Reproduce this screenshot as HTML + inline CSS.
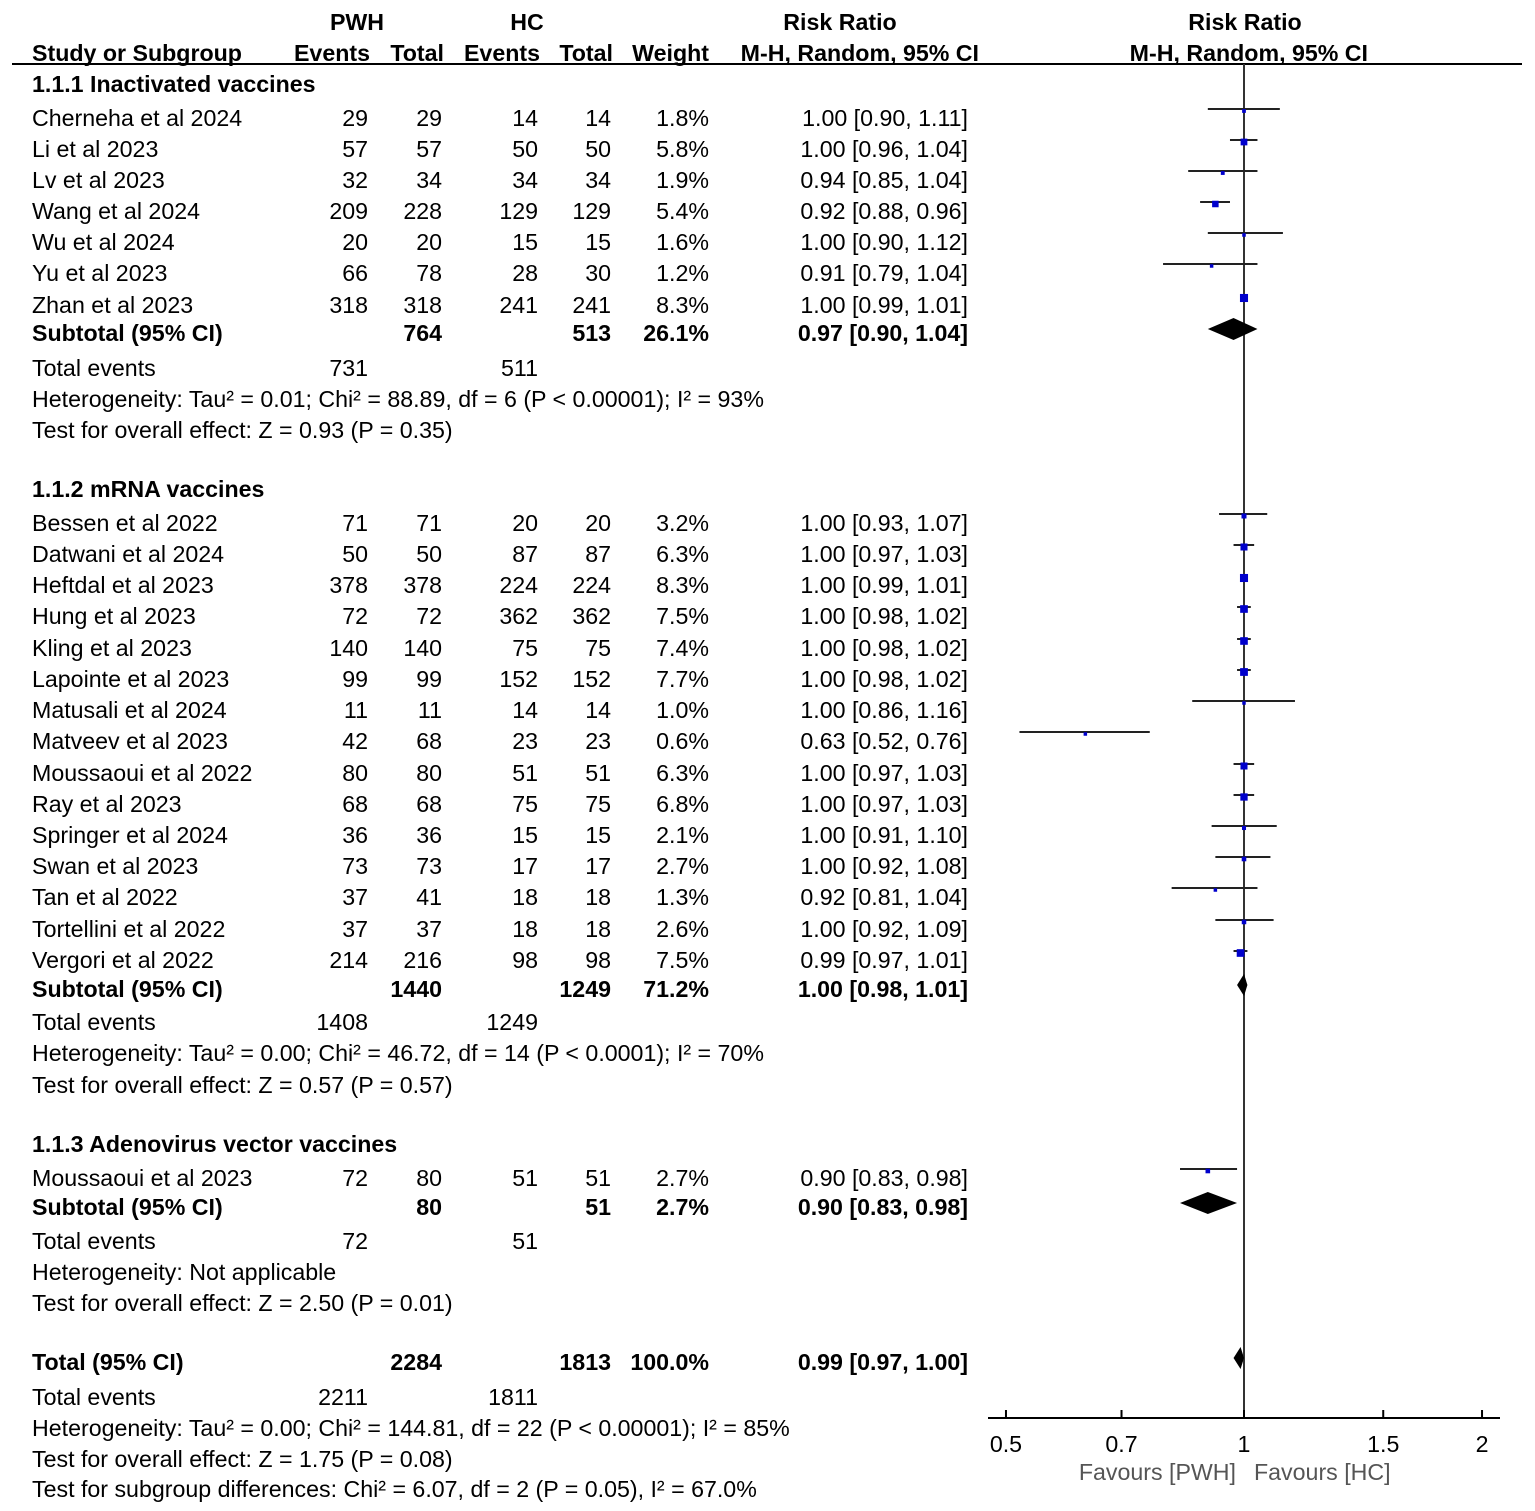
<!DOCTYPE html>
<html><head><meta charset="utf-8"><style>
body{margin:0;background:#fff}
svg{display:block;font-family:"Liberation Sans",Arial,sans-serif;font-size:23.2px}
.b{font-weight:bold}
</style></head><body>
<svg id="c" width="1535" height="1511" viewBox="0 0 1535 1511"></svg>
<script>
// Rows: type, label, pwhEv, pwhTot, hcEv, hcTot, weight, rr, lo, hi
const rowTypes=['h','s','s','s','s','s','s','s','t','e','x','x','h','s','s','s','s','s','s','s','s','s','s','s','s','s','s','s','t','e','x','x','h','s','t','e','x','x','T','e','x','x','x'];
const rowLabels=['1.1.1 Inactivated vaccines','Cherneha et al 2024','Li et al 2023','Lv et al 2023','Wang et al 2024','Wu et al 2024','Yu et al 2023','Zhan et al 2023','Subtotal (95% CI)','Total events','Heterogeneity: Tau² = 0.01; Chi² = 88.89, df = 6 (P < 0.00001); I² = 93%','Test for overall effect: Z = 0.93 (P = 0.35)',
'1.1.2 mRNA vaccines','Bessen et al 2022','Datwani et al 2024','Heftdal et al 2023','Hung et al 2023','Kling et al 2023','Lapointe et al 2023','Matusali et al 2024','Matveev et al 2023','Moussaoui et al 2022','Ray et al 2023','Springer et al 2024','Swan et al 2023','Tan et al 2022','Tortellini et al 2022','Vergori et al 2022','Subtotal (95% CI)','Total events','Heterogeneity: Tau² = 0.00; Chi² = 46.72, df = 14 (P < 0.0001); I² = 70%','Test for overall effect: Z = 0.57 (P = 0.57)',
'1.1.3 Adenovirus vector vaccines','Moussaoui et al 2023','Subtotal (95% CI)','Total events','Heterogeneity: Not applicable','Test for overall effect: Z = 2.50 (P = 0.01)',
'Total (95% CI)','Total events','Heterogeneity: Tau² = 0.00; Chi² = 144.81, df = 22 (P < 0.00001); I² = 85%','Test for overall effect: Z = 1.75 (P = 0.08)','Test for subgroup differences: Chi² = 6.07, df = 2 (P = 0.05), I² = 67.0%'];
const rowY=[84,118,149,180,211,242,273,305,333,368,399,430,489,523,554,585,616,648,679,710,741,773,804,835,866,897,929,960,989,1022,1053,1085,1144,1178,1207,1241,1272,1303,1362,1397,1428,1459,1489];
const pwhEvents=['','29','57','32','209','20','66','318','','731','','','','71','50','378','72','140','99','11','42','80','68','36','73','37','37','214','','1408','','','','72','','72','','','','2211','','',''];
const pwhTotals=['','29','57','34','228','20','78','318','764','','','','','71','50','378','72','140','99','11','68','80','68','36','73','41','37','216','1440','','','','','80','80','','','','2284','','','',''];
const hcEvents=['','14','50','34','129','15','28','241','','511','','','','20','87','224','362','75','152','14','23','51','75','15','17','18','18','98','','1249','','','','51','','51','','','','1811','','',''];
const hcTotals=['','14','50','34','129','15','30','241','513','','','','','20','87','224','362','75','152','14','23','51','75','15','17','18','18','98','1249','','','','','51','51','','','','1813','','','',''];
const weights=[0,1.8,5.8,1.9,5.4,1.6,1.2,8.3,26.1,0,0,0,0,3.2,6.3,8.3,7.5,7.4,7.7,1.0,0.6,6.3,6.8,2.1,2.7,1.3,2.6,7.5,71.2,0,0,0,0,2.7,2.7,0,0,0,100.0,0,0,0,0];
const rr=[0,1.00,1.00,0.94,0.92,1.00,0.91,1.00,0.97,0,0,0,0,1.00,1.00,1.00,1.00,1.00,1.00,1.00,0.63,1.00,1.00,1.00,1.00,0.92,1.00,0.99,1.00,0,0,0,0,0.90,0.90,0,0,0,0.99,0,0,0,0];
const lo=[0,0.90,0.96,0.85,0.88,0.90,0.79,0.99,0.90,0,0,0,0,0.93,0.97,0.99,0.98,0.98,0.98,0.86,0.52,0.97,0.97,0.91,0.92,0.81,0.92,0.97,0.98,0,0,0,0,0.83,0.83,0,0,0,0.97,0,0,0,0];
const hi=[0,1.11,1.04,1.04,0.96,1.12,1.04,1.01,1.04,0,0,0,0,1.07,1.03,1.01,1.02,1.02,1.02,1.16,0.76,1.03,1.03,1.10,1.08,1.04,1.09,1.01,1.01,0,0,0,0,0.98,0.98,0,0,0,1.00,0,0,0,0];
const ticks=[0.5,0.7,1,1.5,2];
const tickLabels=['0.5','0.7','1','1.5','2'];

const NS='http://www.w3.org/2000/svg',svg=document.getElementById('c');
const X=v=>1244+343.4*Math.log(v);
function el(t,a,p){const e=document.createElementNS(NS,t);for(const k in a)e.setAttribute(k,a[k]);(p||svg).appendChild(e);return e;}
function txt(x,y,s,anchor,cls,name,sx){const e=el('text',{x:x,y:y,'text-anchor':anchor||'start'});if(cls)e.setAttribute('class',cls);e.textContent=s;


if(sx){e.setAttribute('transform','translate('+x+','+y+') scale('+sx+',1) translate('+(-x)+','+(-y)+')');}
return e;}
const f=v=>v.toFixed(2);
// headers
const hs=1.0;
txt(357,30,'PWH','middle','b','header-pwh',hs);
txt(527,30,'HC','middle','b','header-hc',hs);
txt(840,30,'Risk Ratio','middle','b','header-risk-ratio',hs);
txt(1245,30,'Risk Ratio','middle','b','header-risk-ratio-plot',hs);
txt(32,61,'Study or Subgroup','start','b','header-study',hs);
txt(370,61,'Events','end','b','header-pwh-events',hs);
txt(444,61,'Total','end','b','header-pwh-total',hs);
txt(540,61,'Events','end','b','header-hc-events',hs);
txt(613,61,'Total','end','b','header-hc-total',hs);
txt(709,61,'Weight','end','b','header-weight',hs);
txt(979,61,'M-H, Random, 95% CI','end','b','header-ci',hs);
txt(1368,61,'M-H, Random, 95% CI','end','b','header-ci-plot',hs);
el('line',{x1:12,y1:64,x2:1522,y2:64,stroke:'#000','stroke-width':2,});
// null line & axis
el('line',{x1:X(1),y1:64,x2:X(1),y2:1418,stroke:'#333','stroke-width':2,});
el('line',{x1:988,y1:1418,x2:1500,y2:1418,stroke:'#000','stroke-width':2,});
ticks.forEach((t,i)=>{
  el('line',{x1:X(t),y1:1410,x2:X(t),y2:1418,stroke:'#000','stroke-width':2,});
  txt(X(t),1452,tickLabels[i],'middle','', 'x-tick-label');
});
txt(1236,1480,'Favours [PWH]','end','', 'favours-pwh').setAttribute('fill','#555');
txt(1254,1480,'Favours [HC]','start','', 'favours-hc').setAttribute('fill','#555');
// rows
rowTypes.forEach((t,i)=>{
  const y=rowY[i]+8, bold=(t==='h'||t==='t'||t==='T')?'b':'';
  txt(32,y,rowLabels[i],'start',bold,'row-label');
  txt(368,y,pwhEvents[i],'end',bold,'pwh-events');
  txt(442,y,pwhTotals[i],'end',bold,'pwh-total');
  txt(538,y,hcEvents[i],'end',bold,'hc-events');
  txt(611,y,hcTotals[i],'end',bold,'hc-total');
  if(t==='s'||t==='t'||t==='T'){
    txt(709,y,weights[i].toFixed(1)+'%','end',bold,'weight');
    txt(968,y,f(rr[i])+' ['+f(lo[i])+', '+f(hi[i])+']','end',bold,'risk-ratio-ci');
  }
  const cy=rowY[i];
  if(t==='s'){
    const g=el('g',{});
    
    
    el('line',{x1:X(lo[i]),y1:cy-9,x2:X(hi[i]),y2:cy-9,stroke:'#222','stroke-width':2},g);
    const s=Math.max(3.5,Math.sqrt(weights[i])*2.8);
    el('rect',{x:X(rr[i])-s/2,y:cy-8-s/2+1,width:s,height:s,fill:'#0000cc'},g);
  } else if(t==='t'||t==='T'){
    const p=el('polygon',{points:[X(lo[i])+','+(cy-4),X(rr[i])+','+(cy-15),X(hi[i])+','+(cy-4),X(rr[i])+','+(cy+7)].join(' '),fill:'#000'});
    
    
  }
});
</script>
</body></html>
